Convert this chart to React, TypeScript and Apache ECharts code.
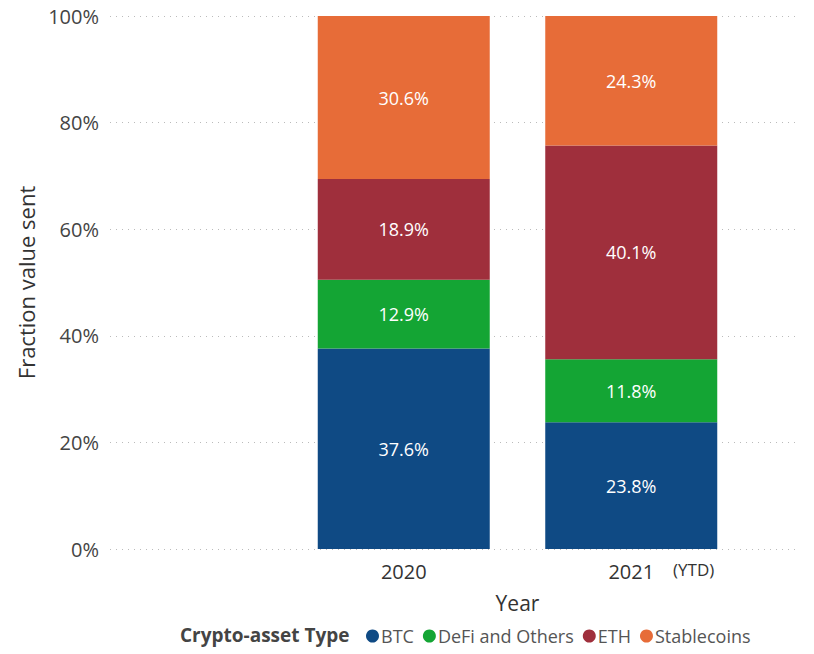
import React, { useEffect, useRef } from "react";
import * as echarts from "echarts";

const years = ["2020", "2021"];
const seriesNames = ["BTC", "DeFi and Others", "ETH", "Stablecoins"];
const btc = [37.6, 23.8];
const defi = [12.9, 11.8];
const eth = [18.9, 40.1];
const stable = [30.6, 24.3];
const colors = ["#0f4a84", "#14a534", "#9f2f3c", "#e76c38"];
const yTicks = [0, 20, 40, 60, 80, 100];

const FONT = "'Open Sans', 'Noto Sans', sans-serif";

export default function App() {
  const ref = useRef<HTMLDivElement>(null);
  useEffect(() => {
    if (!ref.current) return;
    const chart = echarts.init(ref.current, undefined, { renderer: "svg" });
    const values = [btc, defi, eth, stable];
    chart.setOption({
      animation: false,
      textStyle: { fontFamily: FONT },
      grid: [
        { left: 110, right: 19, top: 16, bottom: 105 },
        { left: 290, right: 69, top: 16, bottom: 105 },
      ],
      xAxis: [
        { gridIndex: 0, type: "category", data: years, show: false },
        {
          gridIndex: 1,
          type: "category",
          data: years,
          axisLine: { show: false },
          axisTick: { show: false },
          axisLabel: { fontSize: 20, color: "#333", margin: 12, fontFamily: FONT },
          name: "Year",
          nameLocation: "middle",
          nameGap: 43,
          nameTextStyle: { fontSize: 21, color: "#333", fontFamily: FONT },
        },
      ],
      yAxis: [
        {
          gridIndex: 0,
          type: "value",
          min: 0,
          max: 100,
          interval: 20,
          axisLine: { show: false },
          axisTick: { show: false },
          axisLabel: {
            formatter: (v: number) => (yTicks.includes(v) ? v + "%" : ""),
            fontSize: 20,
            color: "#444",
            margin: 11,
            fontFamily: FONT,
          },
          splitLine: { lineStyle: { type: [1, 5], color: "#bbb", width: 1 } },
          name: "Fraction value sent",
          nameLocation: "middle",
          nameGap: 71,
          nameTextStyle: { fontSize: 22, color: "#333", fontFamily: FONT },
        },
        { gridIndex: 1, type: "value", min: 0, max: 100, show: false },
      ],
      legend: {
        left: 361,
        top: 622,
        icon: "circle",
        itemWidth: 13,
        itemHeight: 13,
        itemGap: 9,
        textStyle: { fontSize: 18, color: "#555", fontFamily: FONT, padding: [0, 0, 0, -3] },
        data: seriesNames,
      },
      graphic: [
        {
          type: "text",
          left: 180,
          top: 625,
          style: { text: "Crypto-asset Type", fontSize: 19, fontWeight: "bold", fill: "#444", fontFamily: FONT },
        },
        {
          type: "text",
          left: 673,
          top: 561,
          style: { text: "(YTD)", fontSize: 17, fill: "#333", fontFamily: FONT },
        },
      ],
      series: seriesNames.map((name, i) => ({
        name,
        type: "bar",
        stack: "total",
        xAxisIndex: 1,
        yAxisIndex: 1,
        barWidth: 172,
        data: values[i],
        itemStyle: { color: colors[i] },
        label: {
          show: true,
          position: "inside",
          formatter: (p: any) => p.value.toFixed(1) + "%",
          color: "#fff",
          fontSize: 18,
          fontFamily: FONT,
        },
      })),
    });
    return () => chart.dispose();
  }, []);
  return <div ref={ref} style={{ width: 814, height: 654, position: "absolute", left: 0, top: 0 }} />;
}
